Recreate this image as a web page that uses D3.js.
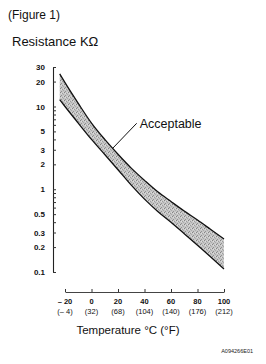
<!DOCTYPE html>
<html>
<head>
<meta charset="utf-8">
<script src="https://cdn.jsdelivr.net/npm/d3@7"></script>
<style>
  body { margin: 0; background: #fff; }
  svg { display: block; font-family: "Liberation Sans", Arial, sans-serif; }
</style>
</head>
<body>
<svg id="chart"></svg>
<script>
// temperature in °C, resistance in kΩ
const temps = [-24, -20, -10, 0, 10, 20, 30, 40, 50, 60, 70, 80, 90, 100];
const upperKOhm = [24.8, 19.4, 10.9, 6.3, 4.0, 2.65, 1.8, 1.28, 0.93, 0.71, 0.545, 0.425, 0.326, 0.25];
const lowerKOhm = [12.1, 10.0, 6.3, 4.0, 2.63, 1.72, 1.12, 0.76, 0.54, 0.40, 0.29, 0.21, 0.152, 0.109];

const yTickLabels = [30, 20, 10, 5, 3, 2, 1, 0.5, 0.3, 0.2, 0.1];
const yMinorTicks = [0.1, 0.2, 0.3, 0.4, 0.5, 0.6, 0.7, 0.8, 0.9, 1, 2, 3, 4, 5, 6, 7, 8, 9, 10, 20, 30];
const xTicksC = [-20, 0, 20, 40, 60, 80, 100];
const xLabelsC = ["\u2013 20", "0", "20", "40", "60", "80", "100"];
const xLabelsF = ["(\u2013 4)", "(32)", "(68)", "(104)", "(140)", "(176)", "(212)"];
const acceptableAt = 16;

const width = 266, height = 364;
const svg = d3.select("#chart").attr("width", width).attr("height", height);

const x = d3.scaleLinear().domain([-20, 100]).range([65, 224]);
const y = d3.scaleLog().domain([0.1, 30]).range([272, 67]);

const data = temps.map((t, i) => ({ t: t, hi: upperKOhm[i], lo: lowerKOhm[i] }));

// stipple fill
const defs = svg.append("defs");
const pat = defs.append("pattern")
    .attr("id", "stipple")
    .attr("width", 4).attr("height", 4)
    .attr("patternUnits", "userSpaceOnUse");
pat.append("rect").attr("width", 4).attr("height", 4).attr("fill", "#c6c6c6");
[[0, 0, "#858585"], [2, 1, "#9c9c9c"], [1, 3, "#929292"], [3, 2, "#aaaaaa"], [1, 1, "#dedede"], [3, 0, "#d8d8d8"]].forEach(p => {
    pat.append("rect").attr("x", p[0]).attr("y", p[1]).attr("width", 1).attr("height", 1).attr("fill", p[2]);
});

// titles
svg.append("text")
    .attr("x", 8).attr("y", 19)
    .attr("font-size", "12px")
    .attr("fill", "#111")
    .text("(Figure 1)");

svg.append("text")
    .attr("x", 12).attr("y", 46)
    .attr("font-size", "13px")
    .attr("fill", "#111")
    .text("Resistance K\u03A9");

// y axis
const yAxis = svg.append("g")
    .attr("transform", "translate(53,0)")
    .call(d3.axisLeft(y)
        .tickValues(yMinorTicks)
        .tickSize(-3)
        .tickSizeOuter(0)
        .tickPadding(8)
        .tickFormat(d => yTickLabels.includes(d) ? String(d) : ""));
yAxis.select(".domain").attr("stroke", "#222").attr("stroke-width", 1.1);
yAxis.selectAll(".tick line").attr("stroke", "#333");
yAxis.selectAll(".tick text")
    .attr("font-family", "Liberation Sans, Arial, sans-serif")
    .attr("font-size", "8px")
    .attr("font-weight", "bold")
    .attr("fill", "#111");

// x axis
const xAxis = svg.append("g")
    .attr("transform", "translate(0,292)")
    .call(d3.axisBottom(x)
        .tickValues(xTicksC)
        .tickSize(-3)
        .tickSizeOuter(0)
        .tickFormat(""));
xAxis.select(".domain").attr("stroke", "#444").attr("stroke-width", 1);
xAxis.selectAll(".tick line").attr("stroke", "#333");

svg.append("g").selectAll("text")
    .data(xTicksC)
    .join("text")
    .attr("x", d => x(d))
    .attr("y", 304)
    .attr("text-anchor", "middle")
    .attr("font-size", "7.5px")
    .attr("font-weight", "bold")
    .attr("fill", "#111")
    .text((d, i) => xLabelsC[i]);

svg.append("g").selectAll("text")
    .data(xTicksC)
    .join("text")
    .attr("x", d => x(d))
    .attr("y", 314)
    .attr("text-anchor", "middle")
    .attr("font-size", "7.5px")
    .attr("fill", "#111")
    .text((d, i) => xLabelsF[i]);

svg.append("text")
    .attr("x", 128).attr("y", 334)
    .attr("text-anchor", "middle")
    .attr("font-size", "11.5px")
    .attr("fill", "#111")
    .text("Temperature \u00B0C (\u00B0F)");

svg.append("text")
    .attr("x", 253).attr("y", 353)
    .attr("text-anchor", "end")
    .attr("font-size", "5.5px")
    .attr("fill", "#222")
    .text("A094266E01");

// band
const band = d3.area()
    .x(d => x(d.t))
    .y0(d => y(d.lo))
    .y1(d => y(d.hi))
    .curve(d3.curveMonotoneX);

svg.append("path")
    .datum(data)
    .attr("d", band)
    .attr("fill", "url(#stipple)");

const upperLine = d3.line().x(d => x(d.t)).y(d => y(d.hi)).curve(d3.curveMonotoneX);
const lowerLine = d3.line().x(d => x(d.t)).y(d => y(d.lo)).curve(d3.curveMonotoneX);

svg.append("path").datum(data).attr("d", upperLine)
    .attr("fill", "none").attr("stroke", "#111").attr("stroke-width", 1.3);
svg.append("path").datum(data).attr("d", lowerLine)
    .attr("fill", "none").attr("stroke", "#111").attr("stroke-width", 1.3);

// annotation
const logHi = d3.scaleLinear().domain(temps).range(upperKOhm.map(Math.log10));
const ax = x(acceptableAt), ay = y(Math.pow(10, logHi(acceptableAt)));
svg.append("line")
    .attr("x1", ax).attr("y1", ay)
    .attr("x2", ax + 24).attr("y2", ay - 25)
    .attr("stroke", "#111").attr("stroke-width", 1);
svg.append("text")
    .attr("x", ax + 27).attr("y", ay - 20)
    .attr("font-size", "12.5px")
    .attr("fill", "#111")
    .text("Acceptable");
</script>
</body>
</html>
